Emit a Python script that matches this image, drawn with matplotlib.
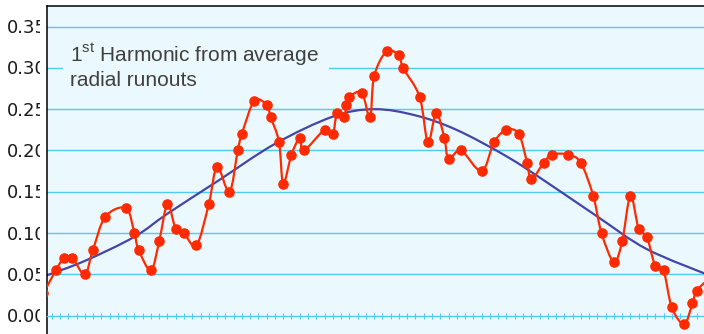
import numpy as np
import matplotlib
matplotlib.use("Agg")
import matplotlib.pyplot as plt
import matplotlib.transforms as mtransforms
from matplotlib.path import Path
from matplotlib.patches import PathPatch, Rectangle

plt.rcParams['font.family'] = ['Liberation Sans', 'DejaVu Sans']
plt.rcParams['mathtext.fontset'] = 'custom'
plt.rcParams['mathtext.rm'] = 'Liberation Sans'

# measurement positions (one unit = one minor tick) and radial runout values
runout_pos = [-1.0, 0.5, 1.5, 2.5, 4.0, 5.0, 6.5, 9.0, 10.0, 10.5, 12.0, 13.0, 14.0,
              15.0, 16.0, 17.5, 19.0, 20.0, 21.5, 22.5, 23.0, 24.5, 26.0, 26.5, 27.5,
              28.0, 29.0, 30.0, 30.5, 33.0, 34.0, 34.5, 35.4, 35.6, 36.0, 37.5, 38.5,
              39.0, 40.5, 42.0, 42.5, 44.5, 45.5, 46.5, 47.5, 48.0, 49.5, 52.0, 53.5,
              55.0, 56.5, 57.5, 58.0, 59.5, 60.5, 62.5, 64.0, 65.5, 66.5, 68.0, 69.0,
              70.0, 71.0, 72.0, 73.0, 74.0, 75.0, 76.5, 77.5, 78.0, 79.5]
runout_val = [0.027, 0.055, 0.07, 0.07, 0.05, 0.08, 0.12, 0.13, 0.10, 0.08, 0.055, 0.09,
              0.135, 0.105, 0.10, 0.085, 0.135, 0.18, 0.15, 0.20, 0.22, 0.26, 0.255, 0.24,
              0.21, 0.16, 0.195, 0.215, 0.20, 0.225, 0.22, 0.245, 0.24, 0.255, 0.265, 0.27,
              0.24, 0.29, 0.32, 0.315, 0.30, 0.265, 0.21, 0.245, 0.215, 0.19, 0.20, 0.175,
              0.21, 0.225, 0.22, 0.185, 0.165, 0.185, 0.195, 0.195, 0.185, 0.145, 0.10,
              0.065, 0.09, 0.145, 0.105, 0.095, 0.06, 0.055, 0.01, -0.01, 0.015, 0.03, 0.045]

# first harmonic curve
harm_pos = [-1, 4, 10, 14, 20, 27, 34, 39, 44, 49, 55, 60, 66, 72, 80]
harm_val = [0.0474, 0.0663, 0.0955, 0.1235, 0.1625, 0.2080, 0.241, 0.25, 0.2425,
            0.2248, 0.193, 0.1607, 0.120, 0.0805, 0.047]

ytick_vals = [0.00, 0.05, 0.10, 0.15, 0.20, 0.25, 0.30, 0.35]
ytick_text = ["0.00", "0.05", "0.10", "0.15", "0.20", "0.25", "0.30", "0.35"]

BG = '#EBF9FE'
GRID = '#50CAF0'
RED = '#FF2A00'
BLUE = '#4545A8'


def smooth_path(xs, ys):
    # Catmull-Rom style bezier through every point (like a "smoothed line")
    p = np.column_stack([xs, ys]).astype(float)
    pts = np.vstack([p[0], p, p[-1]])
    verts = [p[0]]
    codes = [Path.MOVETO]
    for i in range(1, len(pts) - 2):
        c1 = pts[i] + (pts[i + 1] - pts[i - 1]) / 6.0
        c2 = pts[i + 1] - (pts[i + 2] - pts[i]) / 6.0
        verts += [c1, c2, pts[i + 1]]
        codes += [Path.CURVE4] * 3
    return Path(verts, codes)


fig = plt.figure(figsize=(7.04, 3.34), dpi=100)
W, H = 704, 334
ax = fig.add_axes([47 / W, -0.0194, (720 - 47) / W, 1.0014])
ax.set_facecolor(BG)
ax.set_xlim(-0.568, 80.83)
ax.set_ylim(-0.03, 0.3749)

for v in ytick_vals[1:]:
    ax.axhline(v, color=GRID, lw=1.0, zorder=1)

# box behind the caption hides the grid
ax.add_patch(Rectangle((1.37, 0.2684), 32.2, 0.0702, facecolor=BG,
                       edgecolor='none', zorder=1.5))

ax.add_patch(PathPatch(smooth_path(harm_pos, harm_val), facecolor='none',
                       edgecolor=BLUE, lw=1.6, zorder=2))
ax.add_patch(PathPatch(smooth_path(runout_pos, runout_val), facecolor='none',
                       edgecolor=RED, lw=1.6, zorder=3))
ax.plot(runout_pos, runout_val, 'o', ms=6.6, color=RED, mec=RED, zorder=4)

ax.spines['right'].set_visible(False)
ax.spines['left'].set_color('black')
ax.spines['left'].set_linewidth(1.1)
ax.spines['top'].set_color('black')
ax.spines['top'].set_linewidth(1.1)
ax.spines['bottom'].set_position(('data', 0))
ax.spines['bottom'].set_color(GRID)
ax.spines['bottom'].set_linewidth(1.0)

ax.set_xticks(np.arange(0, 81))
ax.tick_params(axis='x', direction='inout', length=4.6, width=0.8, color=GRID,
               labelbottom=False)
ax.set_yticks([])

# y labels, cut off just left of the axis line
clip = mtransforms.TransformedBbox(mtransforms.Bbox([[0, 0], [40 / W, 1]]),
                                   fig.transFigure)
ylab_tr = mtransforms.blended_transform_factory(fig.transFigure, ax.transData) + \
    mtransforms.ScaledTranslation(0, -6.6 / 100, fig.dpi_scale_trans)
for v, s in zip(ytick_vals, ytick_text):
    t = fig.text(7 / W, v, s, transform=ylab_tr, ha='left', va='baseline',
                 fontsize=13, family='DejaVu Sans', color='#1a1a1a')
    t.set_clip_box(clip)
    t.set_clip_on(True)

fig.text(70 / W, 1 - 62.3 / H, r"1$^{\mathrm{st}}$ Harmonic from average",
         fontsize=15, color='#404040', va='baseline', ha='left')
fig.text(70 / W, 1 - 86 / H, "radial runouts",
         fontsize=15, color='#404040', va='baseline', ha='left')

fig.savefig("out.png", dpi=100, facecolor='white')
